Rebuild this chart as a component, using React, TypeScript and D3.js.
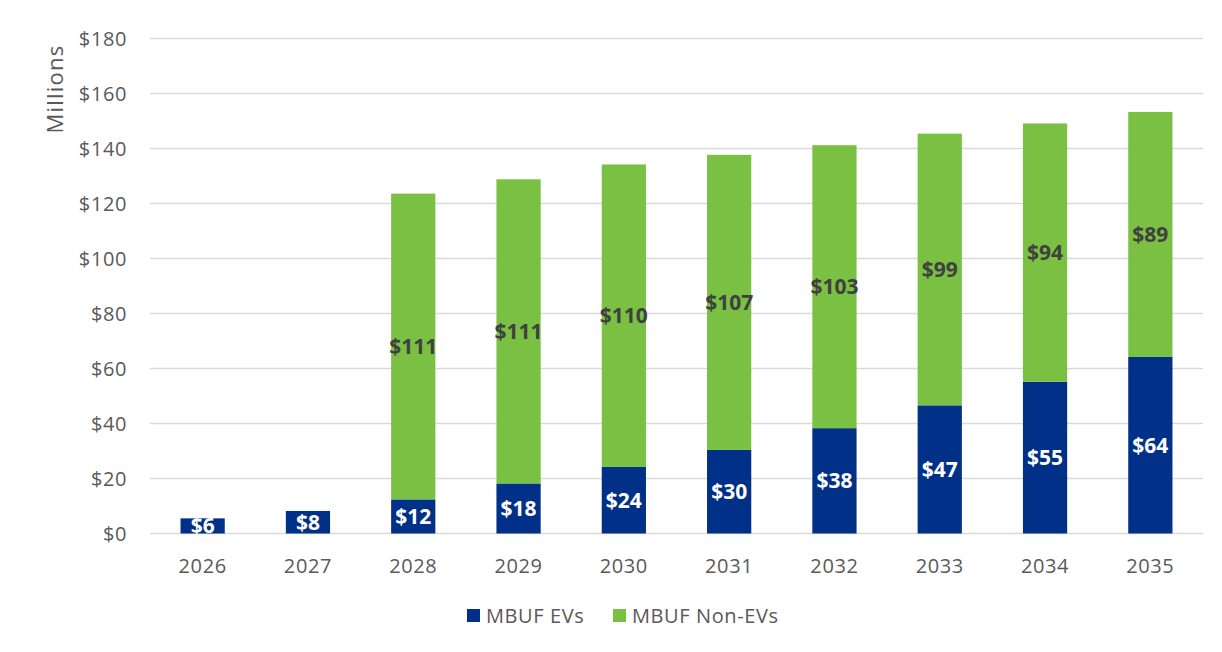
import React, { useEffect, useRef } from 'react'
import * as d3 from 'd3'

// 年份与两组数值（百万美元）
const years = ['2026', '2027', '2028', '2029', '2030', '2031', '2032', '2033', '2034', '2035']
const evValues = [5.5, 8.2, 12.4, 18.2, 24.2, 30.4, 38.3, 46.6, 55.2, 64.2]
const nonEvValues = [0, 0, 111.2, 110.6, 110.0, 107.3, 102.9, 98.8, 93.9, 89.1]
const yTicks = [0, 20, 40, 60, 80, 100, 120, 140, 160, 180]
const seriesNames = ['MBUF EVs', 'MBUF Non-EVs']

const BLUE = '#003087'
const GREEN = '#7AC143'
const FONT = '"Open Sans", "Noto Sans", sans-serif'

const App = () => {
    const ref = useRef<SVGSVGElement>(null)

    useEffect(() => {
        const w = 1222, h = 652
        const left = 150, right = 1203, top = 38.5, bottom = 533.5
        const svg = d3.select(ref.current)
        svg.selectAll('*').remove()

        const x = d3.scaleBand().domain(years).range([left, right]).paddingInner(0.58).paddingOuter(0.29)
        const y = d3.scaleLinear().domain([0, 180]).range([bottom, top])

        // 网格线
        svg.append('g').selectAll('line').data(yTicks).join('line')
            .attr('x1', left).attr('x2', right)
            .attr('y1', d => y(d)).attr('y2', d => y(d))
            .attr('stroke', '#d9d9d9').attr('stroke-width', 1.3)

        // y 轴标签
        svg.append('g').selectAll('text').data(yTicks).join('text')
            .attr('x', 127).attr('y', d => y(d)).attr('dy', '0.35em')
            .attr('text-anchor', 'end').attr('font-family', FONT).attr('font-size', 20)
            .attr('letter-spacing', 0.6)
            .attr('fill', '#595959').text(d => '$' + d)

        svg.append('text')
            .attr('transform', 'translate(63,89) rotate(-90)')
            .attr('text-anchor', 'middle').attr('font-family', FONT).attr('font-size', 22)
            .attr('letter-spacing', 1.2)
            .attr('fill', '#595959').text('Millions')

        // x 轴标签
        svg.append('g').selectAll('text').data(years).join('text')
            .attr('x', d => (x(d) ?? 0) + x.bandwidth() / 2).attr('y', 573)
            .attr('text-anchor', 'middle').attr('font-family', FONT).attr('font-size', 20)
            .attr('letter-spacing', 0.6)
            .attr('fill', '#595959').text(d => d)

        const rows = years.map((yr, i) => ({ yr, ev: evValues[i], non: nonEvValues[i] }))

        // 蓝色柱
        svg.append('g').selectAll('rect').data(rows).join('rect')
            .attr('x', d => x(d.yr) ?? 0).attr('width', x.bandwidth())
            .attr('y', d => y(d.ev)).attr('height', d => y(0) - y(d.ev))
            .attr('fill', BLUE)

        // 绿色柱
        svg.append('g').selectAll('rect').data(rows.filter(d => d.non > 0)).join('rect')
            .attr('x', d => x(d.yr) ?? 0).attr('width', x.bandwidth())
            .attr('y', d => y(d.ev + d.non)).attr('height', d => y(d.ev) - y(d.ev + d.non))
            .attr('fill', GREEN)

        // 数据标签
        svg.append('g').selectAll('text').data(rows).join('text')
            .attr('x', d => (x(d.yr) ?? 0) + x.bandwidth() / 2)
            .attr('y', d => y(d.ev / 2)).attr('dy', '0.36em')
            .attr('text-anchor', 'middle').attr('font-family', FONT).attr('font-size', 21)
            .attr('font-weight', 'bold').attr('fill', '#ffffff')
            .text(d => '$' + Math.round(d.ev))

        svg.append('g').selectAll('text').data(rows.filter(d => d.non > 0)).join('text')
            .attr('x', d => (x(d.yr) ?? 0) + x.bandwidth() / 2)
            .attr('y', d => y(d.ev + d.non / 2)).attr('dy', '0.36em')
            .attr('text-anchor', 'middle').attr('font-family', FONT).attr('font-size', 21)
            .attr('font-weight', 'bold').attr('fill', '#404040')
            .text(d => '$' + Math.round(d.non))

        // 图例
        const legend = svg.append('g')
        const lx = [467, 613]
        seriesNames.forEach((name, i) => {
            legend.append('rect').attr('x', lx[i]).attr('y', 609).attr('width', 13).attr('height', 13)
                .attr('fill', i === 0 ? BLUE : GREEN)
            legend.append('text').attr('x', lx[i] + 19).attr('y', 616).attr('dy', '0.35em')
                .attr('font-family', FONT).attr('font-size', 20).attr('letter-spacing', 0.6)
                .attr('fill', '#595959').text(name)
        })
        svg.attr('width', w).attr('height', h)
    }, [])

    return (<svg ref={ref} width={1222} height={652} style={{ position: 'absolute', left: 0, top: 0, background: '#fff' }} />)
}

export default App
